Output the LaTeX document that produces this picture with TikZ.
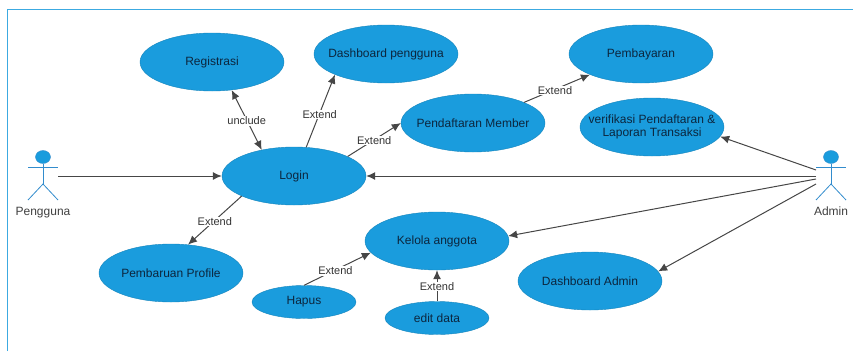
\documentclass[tikz,border=0pt]{standalone}
\usepackage{fontspec}
\usepackage{xcolor}
\usepackage{tikz}
\usetikzlibrary{arrows.meta,shapes.geometric}
\setmainfont{Liberation Sans}
\definecolor{usecase}{RGB}{26, 156, 221}
\definecolor{edge}{RGB}{70, 70, 70}
\definecolor{frameline}{RGB}{60, 170, 225}
\definecolor{actorline}{RGB}{50, 140, 205}
\definecolor{ink}{RGB}{12, 38, 62}
\tikzset{
  bigcase/.style={ellipse, draw=usecase!85!black, fill=usecase, text=ink, inner xsep=-30pt, inner ysep=-4pt,
    minimum width=144pt, minimum height=58pt, font=\fontsize{12}{13}\selectfont, align=center},
  smallcase/.style={bigcase, minimum width=104pt, minimum height=33pt},
  actorname/.style={anchor=base, text=black!75, inner sep=0pt, font=\fontsize{12}{13}\selectfont},
  link/.style={draw=edge, line width=1pt, -{Latex[length=9pt,width=8pt]}},
  bothlink/.style={draw=edge, line width=1pt, {Latex[length=9pt,width=8pt]}-{Latex[length=9pt,width=8pt]}},
  linktext/.style={fill=white, text=black!80, inner sep=0.5pt, yshift=-1pt, font=\fontsize{11}{12}\selectfont},
  figure/.style={draw=actorline, thick},
  head/.style={ellipse, draw=actorline, fill=usecase, inner sep=0pt, minimum width=15pt, minimum height=13pt}
}
\begin{document}
\begin{tikzpicture}[x=1pt, y=-1pt]
  \useasboundingbox (0,0) rectangle (853,351);
  \draw[frameline, thick] (7,351)--(7,9)--(853,9);
  % use cases
  \node[bigcase] (registrasi) at (212,62) {Registrasi};
  \node[bigcase] (dashpengguna) at (386,54) {Dashboard pengguna};
  \node[bigcase] (pembayaran) at (641,54) {Pembayaran};
  \node[bigcase] (member) at (473,123) {Pendaftaran Member};
  \node[bigcase] (verifikasi) at (652,127) {verifikasi Pendaftaran \&\\Laporan Transaksi};
  \node[bigcase] (login) at (294,176) {Login};
  \node[bigcase] (kelola) at (437,241) {Kelola anggota};
  \node[bigcase] (dashadmin) at (590,281) {Dashboard Admin};
  \node[bigcase] (profile) at (171,273) {Pembaruan Profile};
  \node[smallcase] (hapus) at (304,302) {Hapus};
  \node[smallcase] (editdata) at (437,318) {edit data};
  % actors
  \node[head] (headpengguna) at (43,157) {};
  \draw[figure] (28,167)--(58,167);
  \draw[figure] (headpengguna.south)--(43,184);
  \draw[figure] (28,200)--(43,184)--(58,200);
  \node[actorname] (pengguna) at (43,215) {Pengguna};
  \node[head] (headadmin) at (831,157) {};
  \draw[figure] (816,167)--(846,167);
  \draw[figure] (headadmin.south)--(831,184);
  \draw[figure] (816,200)--(831,184)--(846,200);
  \node[actorname] (admin) at (831,215) {Admin};
  % free ends at the actors
  \coordinate (fromuser) at (58,176);
  \coordinate (adminA) at (816,170);
  \coordinate (adminB) at (816,176);
  \coordinate (adminC) at (816,179);
  \coordinate (adminD) at (816,184);
  % connectors
  \draw[link] (fromuser)--(login.west);
  \draw[link] (adminB)--(login.east);
  \draw[link] (adminA)--(verifikasi.-8);
  \draw[link] (adminC)--(kelola.4);
  \draw[link] (adminD)--(dashadmin.8);
  \draw[bothlink] (login.141)--node[linktext] {unclude} (registrasi.-55);
  \draw[link] (login.67)--node[linktext, pos=0.47] {Extend} (dashpengguna.202);
  \draw[link] (login.20)--node[linktext] {Extend} (member.west);
  \draw[link] (member.22)--node[linktext, pos=0.47] {Extend} (pembayaran.202);
  \draw[link] (login.201)--node[linktext] {Extend} (profile.59);
  \draw[link] (hapus.north)--node[linktext, pos=0.47] {Extend} (kelola.190);
  \draw[link] (editdata.north)--node[linktext] {Extend} (kelola.south);
\end{tikzpicture}
\end{document}
